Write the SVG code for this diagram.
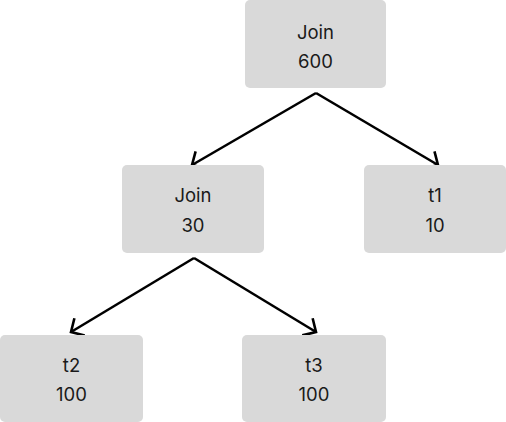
<svg xmlns="http://www.w3.org/2000/svg" width="506" height="422" viewBox="0 0 506 422">
<style>
.box{fill:#d9d9d9}
.t{font-family:Inter,"Liberation Sans",sans-serif;font-size:18.5px;fill:#1a1a1a;text-anchor:middle}
.e{fill:none;stroke:#000;stroke-width:2.6}
</style>
<defs>
<marker id="ah" viewBox="0 0 16 24" refX="13" refY="12" markerWidth="16" markerHeight="24" markerUnits="userSpaceOnUse" orient="auto">
<path d="M3,2 L13,12 L3,22" fill="none" stroke="#000" stroke-width="2.6"/>
</marker>
</defs>
<rect width="506" height="422" fill="#fff"/>
<g id="connectors">
<line class="e" x1="316" y1="93" x2="192" y2="165" marker-end="url(#ah)"/>
<line class="e" x1="316" y1="93" x2="438" y2="165" marker-end="url(#ah)"/>
<line class="e" x1="194" y1="258" x2="71" y2="332" marker-end="url(#ah)"/>
<line class="e" x1="194" y1="258" x2="316" y2="332" marker-end="url(#ah)"/>
</g>
<g id="join600">
<rect class="box" x="245" y="0" width="141" height="88" rx="5"/>
<text class="t" x="315.5" y="38.5">Join</text>
<text class="t" x="315.5" y="67.5">600</text>
</g>
<g id="join30">
<rect class="box" x="122" y="165" width="142" height="88" rx="5"/>
<text class="t" x="193" y="202">Join</text>
<text class="t" x="193" y="231.5">30</text>
</g>
<g id="t1">
<rect class="box" x="364" y="165" width="142" height="88" rx="5"/>
<text class="t" x="435" y="202">t1</text>
<text class="t" x="435" y="231.5">10</text>
</g>
<g id="t2">
<rect class="box" x="0" y="335" width="143" height="87" rx="5"/>
<text class="t" x="71.5" y="371.5">t2</text>
<text class="t" x="71.5" y="400.5">100</text>
</g>
<g id="t3">
<rect class="box" x="242" y="335" width="144" height="87" rx="5"/>
<text class="t" x="314" y="371.5">t3</text>
<text class="t" x="314" y="400.5">100</text>
</g>
</svg>
